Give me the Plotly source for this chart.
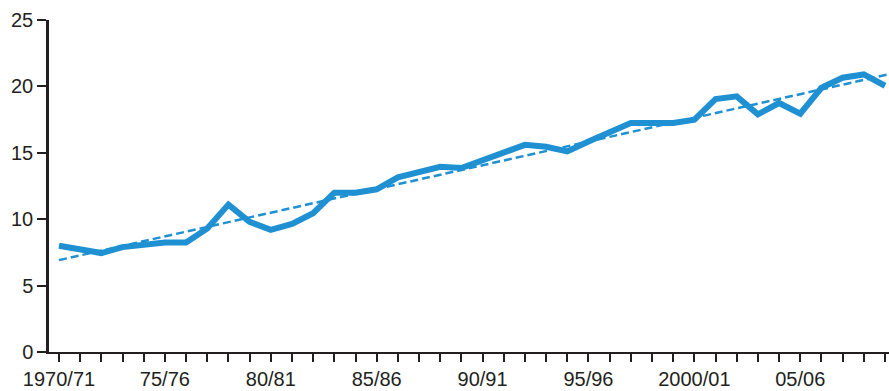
import plotly.graph_objects as go

years = list(range(1970, 2010))
values = [8.0, 7.75, 7.45, 7.9, 8.1, 8.25, 8.25, 9.3, 11.1, 9.8,
          9.2, 9.65, 10.45, 12.0, 12.0, 12.25, 13.15, 13.6, 13.95, 13.85,
          14.4, 14.95, 15.6, 15.45, 15.1, 15.85, 16.6, 17.25, 17.25, 17.25,
          17.5, 19.05, 19.25, 17.9, 18.75, 17.95, 19.9, 20.65, 20.9, 20.05]
trend_x = [1970, 2009.15]
trend_values = [6.92, 20.9]
tick_years = [1970, 1975, 1980, 1985, 1990, 1995, 2000, 2005]
tick_labels = ["1970/71", "75/76", "80/81", "85/86", "90/91", "95/96", "2000/01", "05/06"]
y_ticks = [0, 5, 10, 15, 20, 25]

BLUE = "#1f90d2"
INK = "#231f20"

ticktext = [tick_labels[tick_years.index(y)] if y in tick_years else "" for y in years]

fig = go.Figure()
fig.add_trace(go.Scatter(x=trend_x, y=trend_values, mode="lines",
                         line=dict(color=BLUE, width=2.5, dash="8px,4px"),
                         hoverinfo="skip", showlegend=False))
fig.add_trace(go.Scatter(x=years, y=values, mode="lines",
                         line=dict(color=BLUE, width=6),
                         showlegend=False))

fig.update_layout(
    width=889, height=391,
    margin=dict(l=49, r=0, t=20, b=39),
    paper_bgcolor="white", plot_bgcolor="white",
    font=dict(family="Liberation Sans, Arial, Helvetica, sans-serif", size=20, color=INK),
)
fig.update_xaxes(
    range=[1970 - 0.472, 2009.19],
    tickmode="array", tickvals=years, ticktext=ticktext,
    ticks="outside", ticklen=8, tickwidth=2, tickcolor=INK,
    showline=True, linecolor=INK, linewidth=2,
    showgrid=False, zeroline=False, automargin=False,
)
fig.update_yaxes(
    range=[0, 25],
    tickmode="array", tickvals=y_ticks,
    ticks="outside", ticklen=9, tickwidth=2, tickcolor=INK,
    showline=True, linecolor=INK, linewidth=2.5,
    showgrid=False, zeroline=False, automargin=False,
)

fig.write_html("out.html", config={"responsive": False, "displayModeBar": False},
               post_script="document.body.style.margin='0';document.body.style.padding='0';")
